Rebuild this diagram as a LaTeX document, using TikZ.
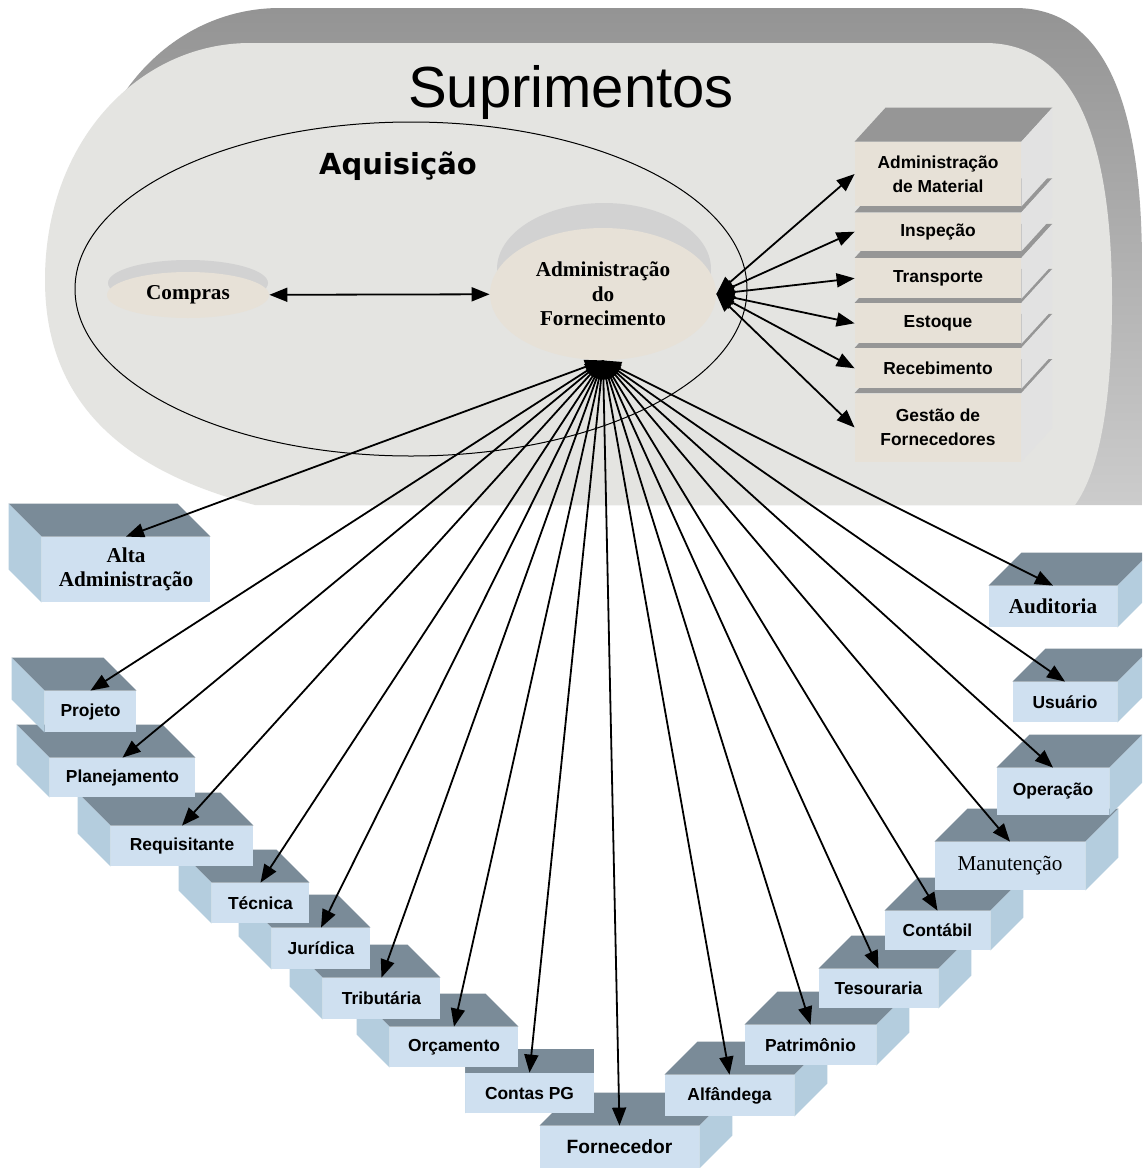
\documentclass[tikz,border=0pt]{standalone}
\usepackage{fontspec}
\newfontfamily\arialfont{Liberation Sans}
\newfontfamily\timesfont{Liberation Serif}
\newfontfamily\verdanafont{DejaVu Sans}
\usetikzlibrary{arrows.meta,shapes.geometric}
\definecolor{facegray}{RGB}{228,228,225}
\definecolor{frontblue}{RGB}{207,224,240}
\definecolor{topblue}{RGB}{122,139,152}
\definecolor{sideblue}{RGB}{180,205,222}
\definecolor{frontbeige}{RGB}{231,225,215}
\definecolor{topbeige}{RGB}{150,150,150}
\definecolor{sidebeige}{RGB}{226,226,226}
\definecolor{rimgray}{RGB}{210,210,210}

\begin{document}
\begin{tikzpicture}[x=0.5pt,y=-0.5pt,
  link/.style={<->,>={Triangle[length=9pt,width=7pt]},line width=0.9pt},
  front/.style={inner sep=0pt,align=center},
  sanslabel/.style={font=\arialfont\bfseries\fontsize{8.7}{12}\selectfont},
  fornlabel/.style={font=\arialfont\bfseries\fontsize{9.6}{12}\selectfont},
  seriflabel/.style={font=\timesfont\bfseries\fontsize{10.6}{12}\selectfont},
  plainlabel/.style={font=\timesfont\fontsize{10.6}{12}\selectfont},
  disc/.style={ellipse,inner sep=0pt,fill=frontbeige,align=center,
    font=\timesfont\bfseries\fontsize{10.6}{12.25}\selectfont}]
\useasboundingbox (0,0) rectangle (1142,1168);
\clip (0,0) rectangle (1142,1168);
\fill[white] (0,0) rectangle (1142,1168);
\shade[top color=black!42,bottom color=black!20] (280,8) -- (1015,8)
  .. controls (1110,8) and (1142,115) .. (1142,265) -- (1142,505) -- (300,505)
  -- (80,245) .. controls (80,105) and (170,8) .. (280,8) -- cycle;
\fill[facegray] (250,43) -- (985,43) .. controls (1080,43) and (1112,150) .. (1112,300)
  .. controls (1112,400) and (1100,470) .. (1075,505) -- (255,505)
  .. controls (120,470) and (45,400) .. (45,280) .. controls (45,140) and (140,43) .. (250,43) -- cycle;
\node[font=\arialfont\fontsize{29}{34}\selectfont,anchor=base] (supr) at (571,107) {Suprimentos};
\node[font=\verdanafont\bfseries\fontsize{14.5}{17}\selectfont,anchor=base] (aquis) at (398,174) {Aquisição};
\draw[line width=0.5pt] (411,289) ellipse [x radius=336,y radius=167];
\fill[rimgray] (188,283) ellipse [x radius=80,y radius=23];
\node[disc,minimum width=81pt,minimum height=23pt] (compras) at (188,295) {Compras};
\fill[rimgray] (604,269) ellipse [x radius=107,y radius=66];
\node[disc,minimum width=113pt,minimum height=66pt] (adm) at (603,294) {Administração\\do\\Fornecimento};
\foreach \nm/\y/\h/\txt in {gest/427.5/68/{Gestão de\\Fornecedores},rec/368.3/40/Recebimento,
  est/323.3/40/Estoque,transp/278.3/40/Transporte,insp/231.7/38/Inspeção,
  am/174/64/{Administração\\de Material}}{
  \node[front,sanslabel,fill=frontbeige,minimum width=83pt,minimum height=\h*0.5pt] (\nm) at (938,\y) {\txt};
  \fill[topbeige] (\nm.north west) -- ([shift={(31,-34)}]\nm.north west)
    -- ([shift={(31,-34)}]\nm.north east) -- (\nm.north east) -- cycle;
  \fill[sidebeige] (\nm.north east) -- ([shift={(31,-34)}]\nm.north east)
    -- ([shift={(31,-34)}]\nm.south east) -- (\nm.south east) -- cycle;
}
\foreach \nm/\x/\y/\w/\h/\dx/\dy/\sd/\lab/\txt in {
  forn/619.5/1147/159/42/33/-33/east/fornlabel/Fornecedor,
  alf/729.5/1095.5/129/41/33/-33/east/sanslabel/Alfândega,
  contas/529.5/1093/129/40/0/-24/west/sanslabel/Contas PG,
  orc/454/1047/128/40/-33/-33/west/sanslabel/Orçamento,
  pat/810.5/1045/131/40/33/-33/east/sanslabel/Patrimônio,
  trib/381.5/998.5/117/41/-33/-33/west/sanslabel/Tributária,
  tes/878.5/988.5/119/39/33/-33/east/sanslabel/Tesouraria,
  jur/321/948.5/98/41/-33/-33/west/sanslabel/Jurídica,
  cont/937.5/930.5/105/39/33/-33/east/sanslabel/Contábil,
  tec/260.5/903/97/40/-33/-33/west/sanslabel/Técnica,
  man/1010/866/150/48/33/-33/east/plainlabel/Manutenção,
  req/182/846/142/40/-33/-33/west/sanslabel/Requisitante,
  oper/1053/791.5/112/47/33/-33/east/sanslabel/Operação,
  plan/122.5/777.5/145/39/-33/-33/west/sanslabel/Planejamento,
  proj/90.5/711.5/91/41/-33/-33/west/sanslabel/Projeto,
  usu/1065/702/104/40/33/-33/east/sanslabel/Usuário,
  aud/1053/606.5/128/41/33/-33/east/seriflabel/Auditoria,
  alta/126/569.5/168/65/-33/-33/west/seriflabel/{Alta\\Administração}}{
  \node[front,\lab,fill=frontblue,minimum width=\w*0.5pt,minimum height=\h*0.5pt] (\nm) at (\x,\y) {\txt};
  \fill[topblue] (\nm.north west) -- ([shift={(\dx,\dy)}]\nm.north west)
    -- ([shift={(\dx,\dy)}]\nm.north east) -- (\nm.north east) -- cycle;
  \fill[sideblue] (\nm.north \sd) -- ([shift={(\dx,\dy)}]\nm.north \sd)
    -- ([shift={(\dx,\dy)}]\nm.south \sd) -- (\nm.south \sd) -- cycle;
}
\draw[link] (compras) -- (adm);
\foreach \b in {am,insp,transp,est,rec,gest}
  \draw[link] (adm.east) -- (\b.west);
\foreach \b in {alta,proj,plan,req,tec,jur,trib,orc,contas,forn,alf,pat,tes,cont,man,oper,usu,aud}
  \draw[link] (adm.south) -- (\b.north);
\end{tikzpicture}
\end{document}
